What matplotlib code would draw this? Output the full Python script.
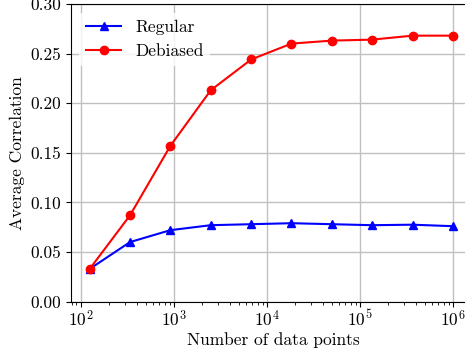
import matplotlib

matplotlib.use("Agg")
import matplotlib.pyplot as plt

# data
n_points = [125, 339, 920, 2500, 6790, 18420, 50000, 135700, 368400, 1000000]
regular = [0.033, 0.060, 0.072, 0.077, 0.078, 0.079, 0.078, 0.077, 0.0775, 0.076]
debiased = [0.033, 0.087, 0.157, 0.213, 0.244, 0.260, 0.263, 0.264, 0.268, 0.268]
y_ticks = [0.00, 0.05, 0.10, 0.15, 0.20, 0.25, 0.30]

plt.rcParams["font.family"] = "serif"
plt.rcParams["font.serif"] = ["cmr10"]
plt.rcParams["mathtext.fontset"] = "cm"
plt.rcParams["axes.formatter.use_mathtext"] = True
plt.rcParams["font.size"] = 12.5

fig = plt.figure(figsize=(4.65, 3.54), dpi=100)
# the right spine sits past the figure edge, as in the reference crop
ax = fig.add_axes([0.152, 0.148, 0.872, 0.841])

ax.plot(n_points, regular, color="blue", marker="^", markersize=6,
        linewidth=1.5, label="Regular")
ax.plot(n_points, debiased, color="red", marker="o", markersize=6,
        linewidth=1.5, label="Debiased")

ax.set_xscale("log")
ax.set_xlim(10 ** 1.892, 10 ** 6.25)
ax.set_ylim(0, 0.30)
ax.set_yticks(y_ticks)
ax.set_yticklabels([f"{v:.2f}" for v in y_ticks])
ax.tick_params(axis="x", pad=1.5)
ax.set_xlabel("Number of data points", labelpad=2)
ax.set_ylabel("Average Correlation")
ax.spines["right"].set_visible(False)
ax.grid(True, which="major", color="#c0c0c0", linewidth=1.0)
ax.set_axisbelow(True)
ax.legend(loc="upper left", framealpha=0.8, edgecolor="none", fontsize=12.5)

fig.savefig("out.png", dpi=100, facecolor="white")
